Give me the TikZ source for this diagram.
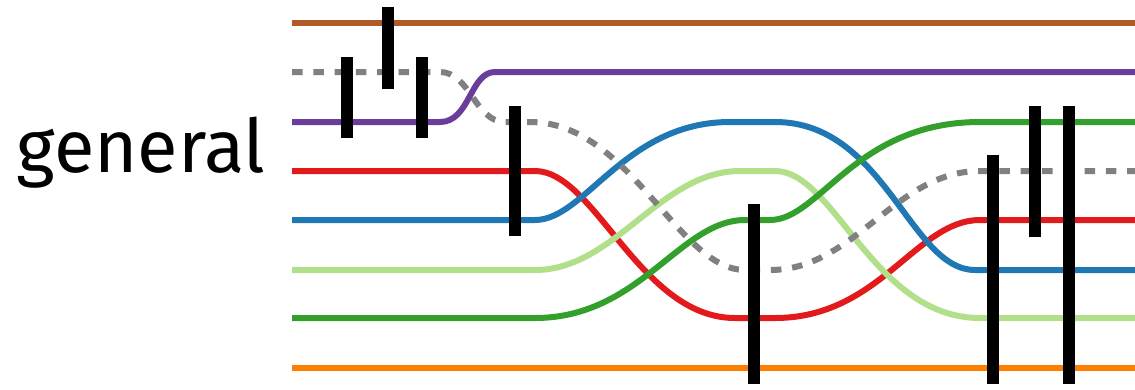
\documentclass[tikz,border=0pt]{standalone}
\usepackage{fontspec}
\setmainfont{Fira Sans}
\usetikzlibrary{positioning}
\definecolor{wbrown}{HTML}{B15928}
\definecolor{wpurple}{HTML}{6A3D9A}
\definecolor{wred}{HTML}{E31A1C}
\definecolor{wblue}{HTML}{1F78B4}
\definecolor{wlgreen}{HTML}{B2DF8A}
\definecolor{wgreen}{HTML}{33A02C}
\definecolor{worange}{HTML}{FF7F00}
\definecolor{wgray}{HTML}{808080}
\tikzset{
	wire/.style={line width=6pt},
	ghost/.style={wire, wgray, dash pattern=on 10.5pt off 10.8pt},
	gatebar/.style={line width=12pt, black},
}

\begin{document}
\begin{tikzpicture}[x=1pt,y=-1pt]
        \useasboundingbox (0,0) rectangle (1135,389);
        \node[font=\fontsize{74}{80}\selectfont, anchor=base] (general) at (141,172) {general};
        % wires
        \draw[wire, wbrown] (292,23) -- (1135,23);
        \draw[wire, worange] (292,368) -- (1135,368);
        \draw[wire, wpurple] (292,122) -- (440,122) .. controls (470,122) and (470,72) .. (495,72) -- (1135,72);
        \draw[wire, wred] (292,171) -- (535,171) .. controls (595,171) and (640,318) .. (735,318) -- (775,318) .. controls (880,318) and (916,220) .. (980,220) -- (1135,220);
        \draw[wire, wlgreen] (292,270) -- (535,270) .. controls (615,270) and (660,171) .. (740,171) -- (775,171) .. controls (835,171) and (873,318) .. (980,318) -- (1135,318);
        \draw[wire, wblue] (292,220) -- (535,220) .. controls (585,220) and (625,122) .. (730,122) -- (775,122) .. controls (885,122) and (910,270) .. (975,270) -- (1135,270);
        \draw[wire, wgreen] (292,318) -- (535,318) .. controls (640,318) and (680,220) .. (745,220) -- (770,220) .. controls (820,220) and (855,122) .. (980,122) -- (1135,122);
        \draw[ghost] (292,72) -- (440,72) .. controls (470,72) and (475,122) .. (505,122) -- (530,122) .. controls (630,122) and (678,270) .. (745,270) -- (770,270) .. controls (855,270) and (895,171) .. (980,171) -- (1135,171);
        % gates
        \draw[gatebar] (347,57) -- (347,138);
        \draw[gatebar] (388,7) -- (388,89);
        \draw[gatebar] (422,57) -- (422,138);
        \draw[gatebar] (515,106) -- (515,236);
        \draw[gatebar] (754,204) -- (754,384);
        \draw[gatebar] (993,155) -- (993,384);
        \draw[gatebar] (1035,106) -- (1035,237);
        \draw[gatebar] (1069,106) -- (1069,384);
\end{tikzpicture}
\end{document}
